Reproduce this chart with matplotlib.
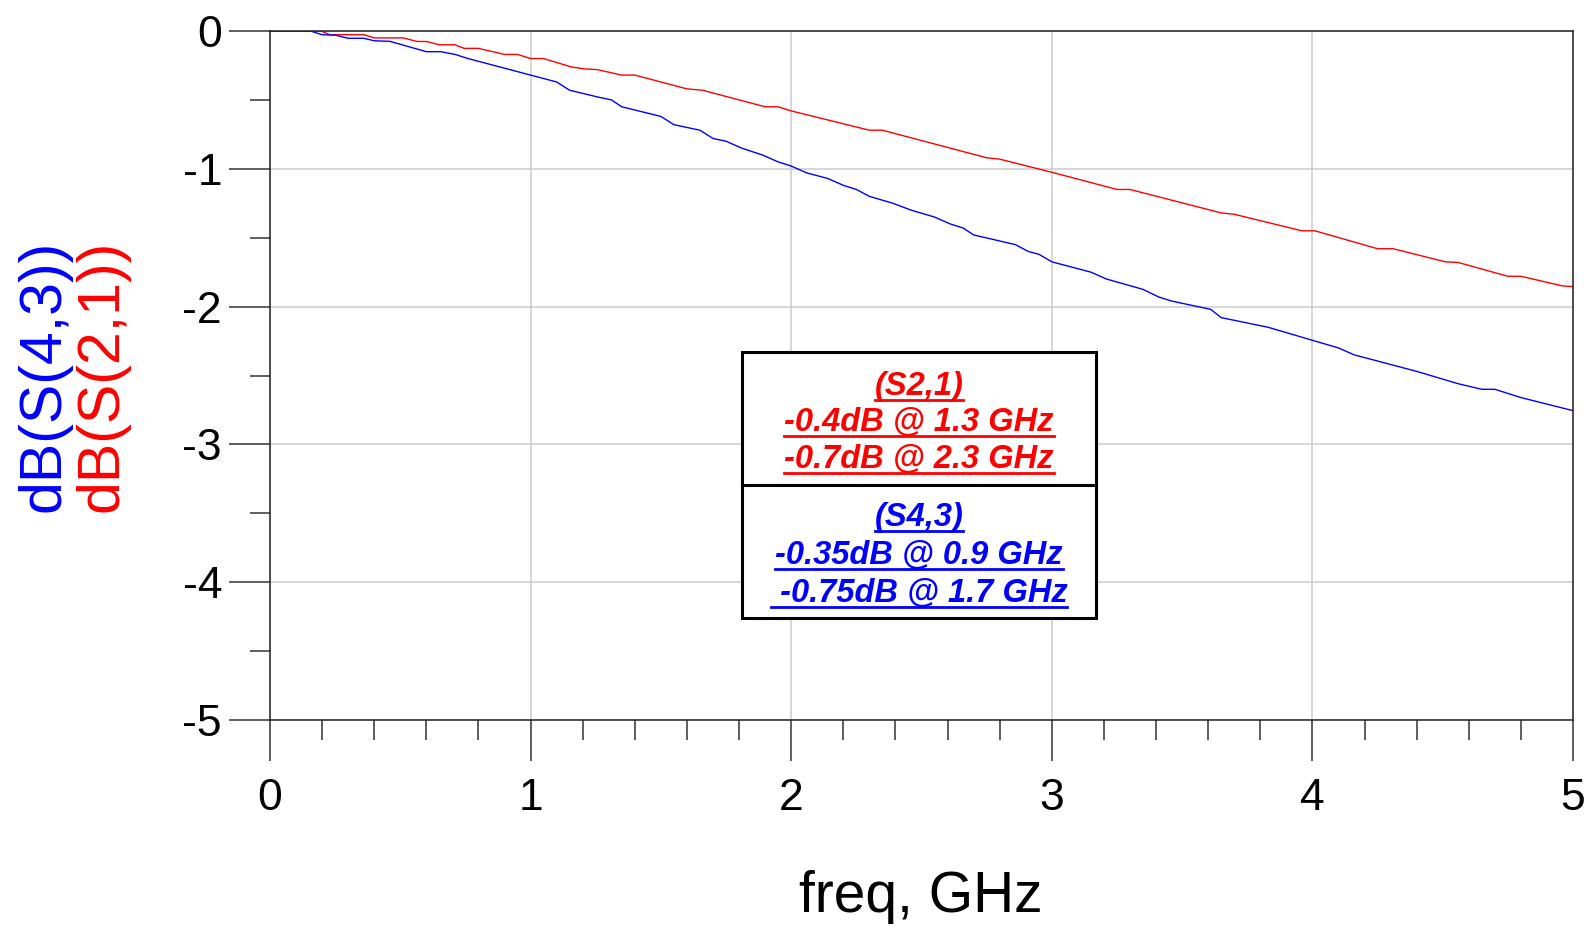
import matplotlib
matplotlib.use('Agg')
import matplotlib.pyplot as plt
from matplotlib.lines import Line2D
from matplotlib.patches import Rectangle
from matplotlib.ticker import MultipleLocator

plt.rcParams['font.family'] = ['Liberation Sans', 'DejaVu Sans']
plt.rcParams['axes.unicode_minus'] = False

# dB(S(2,1)) (red trace)
freq21 = [0.0, 0.195, 0.23, 0.36, 0.40, 0.51, 0.565, 0.60, 0.65, 0.71,
          0.745, 0.80, 0.90, 0.95, 1.00, 1.05, 1.155, 1.205, 1.255, 1.35,
          1.40, 1.60, 1.66, 1.90, 1.95, 2.00, 2.30, 2.35, 2.55, 2.75,
          2.80, 3.00, 3.25, 3.30, 3.65, 3.70, 3.96, 4.01, 4.25, 4.31,
          4.51, 4.56, 4.75, 4.80, 4.96, 5.00]
db21 = [0.0, 0.0, -0.027, -0.027, -0.05, -0.05, -0.076, -0.076, -0.10, -0.10,
        -0.126, -0.126, -0.17, -0.17, -0.20, -0.20, -0.26, -0.275, -0.28, -0.32,
        -0.32, -0.42, -0.43, -0.55, -0.55, -0.58, -0.72, -0.72, -0.82, -0.92,
        -0.93, -1.025, -1.15, -1.15, -1.32, -1.33, -1.45, -1.45, -1.58, -1.58,
        -1.675, -1.68, -1.78, -1.78, -1.85, -1.855]

# dB(S(4,3)) (blue trace)
freq43 = [0.0, 0.155, 0.20, 0.25, 0.30, 0.36, 0.40, 0.46, 0.60, 0.655,
          0.71, 0.76, 1.00, 1.10, 1.15, 1.26, 1.31, 1.35, 1.50, 1.55,
          1.65, 1.70, 1.75, 1.81, 1.89, 1.95, 2.00, 2.06, 2.14, 2.20,
          2.25, 2.30, 2.39, 2.46, 2.55, 2.61, 2.66, 2.70, 2.86, 2.91,
          2.95, 3.00, 3.15, 3.21, 3.35, 3.41, 3.46, 3.61, 3.65, 3.83,
          4.01, 4.10, 4.16, 4.40, 4.56, 4.65, 4.70, 4.80, 5.00]
db43 = [0.0, 0.0, -0.027, -0.03, -0.053, -0.053, -0.071, -0.075, -0.15, -0.15,
        -0.17, -0.20, -0.32, -0.37, -0.43, -0.48, -0.50, -0.55, -0.62, -0.68,
        -0.72, -0.78, -0.80, -0.85, -0.90, -0.95, -0.98, -1.03, -1.07, -1.12,
        -1.15, -1.20, -1.25, -1.30, -1.35, -1.40, -1.43, -1.48, -1.55, -1.60,
        -1.62, -1.675, -1.75, -1.80, -1.875, -1.93, -1.96, -2.02, -2.08, -2.15,
        -2.25, -2.30, -2.35, -2.47, -2.56, -2.60, -2.60, -2.66, -2.755]

xticks = [0, 1, 2, 3, 4, 5]
xticklabels = ['0', '1', '2', '3', '4', '5']
yticks = [0, -1, -2, -3, -4, -5]
yticklabels = ['0', '-1', '-2', '-3', '-4', '-5']

notes21 = ['(S2,1)', '-0.4dB @ 1.3 GHz', '-0.7dB @ 2.3 GHz']
notes43 = ['(S4,3)', '-0.35dB @ 0.9 GHz', ' -0.75dB @ 1.7 GHz']

RED = '#ff0000'
BLUE = '#0000ff'
W, H = 1585, 927


def fx(x):
    return x / W


def fy(y):
    return 1 - y / H


fig = plt.figure(figsize=(W / 100, H / 100), dpi=100)
ax = fig.add_axes([fx(270), fy(720), fx(1573) - fx(270), fy(31) - fy(720)])

ax.plot(freq21, db21, color=RED, lw=1.0)
ax.plot(freq43, db43, color=BLUE, lw=1.0)

ax.set_xlim(0, 5)
ax.set_ylim(-5, 0)
ax.set_xticks(xticks)
ax.set_xticklabels(xticklabels)
ax.set_yticks(yticks)
ax.set_yticklabels(yticklabels)
ax.xaxis.set_minor_locator(MultipleLocator(0.2))
ax.yaxis.set_minor_locator(MultipleLocator(0.5))

ax.set_axisbelow(True)
ax.grid(True, which='major', color='#cccccc', lw=1.1)
for s in ax.spines.values():
    s.set_color('#222222')
    s.set_linewidth(1.1)

ax.tick_params(which='major', direction='out', length=29.5, width=1.1,
               color='#333333', labelsize=32)
ax.tick_params(which='minor', direction='out', length=14.5, width=1.1,
               color='#333333')
ax.tick_params(axis='x', which='major', pad=12)
ax.tick_params(axis='y', which='major', pad=5)

# axis titles
fig.text(fx(43.5), fy(376), 'dB(S(4,3))', rotation=90, color=BLUE,
         fontsize=42.5, ha='center', va='center')
fig.text(fx(101.5), fy(376), 'dB(S(2,1))', rotation=90, color=RED,
         fontsize=42.5, ha='center', va='center')
fig.text(fx(921), fy(897), 'freq, GHz', fontsize=41, ha='center', va='center')

# annotation box
fig.add_artist(Rectangle((fx(742), fy(618)), fx(1096) - fx(742), fy(352) - fy(618),
                         transform=fig.transFigure, facecolor='white',
                         edgecolor='black', lw=2.2, zorder=5))
fig.add_artist(Line2D([fx(742), fx(1096)], [fy(485), fy(485)],
                      transform=fig.transFigure, color='black', lw=2.2, zorder=6))

baselines = [395, 431, 468, 526, 564, 602]
texts = []
for i, (s, c) in enumerate([(t, RED) for t in notes21] + [(t, BLUE) for t in notes43]):
    t = fig.text(fx(919), fy(baselines[i]), s, color=c, fontsize=23.5,
                 fontweight='bold', fontstyle='italic', ha='center',
                 va='baseline', zorder=7)
    texts.append((t, baselines[i], c))

# underline each note
fig.canvas.draw()
r = fig.canvas.get_renderer()
for t, b, c in texts:
    bb = t.get_window_extent(renderer=r)
    fig.add_artist(Line2D([bb.x0 / W, bb.x1 / W], [fy(b + 4.5), fy(b + 4.5)],
                          transform=fig.transFigure, color=c, lw=2.0, zorder=7))

fig.savefig('out.png', dpi=100)
